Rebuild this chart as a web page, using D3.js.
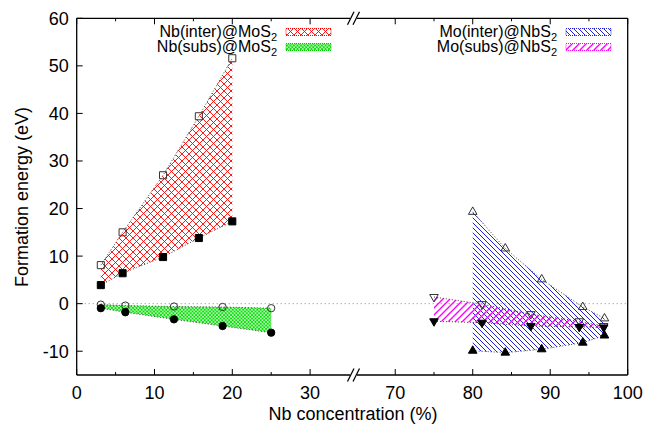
<!DOCTYPE html>
<html>
<head>
<meta charset="utf-8">
<script src="https://cdn.jsdelivr.net/npm/d3@7"></script>
<style>
  body { margin: 0; background: #fff; }
  text { font-family: "Liberation Sans", Arial, sans-serif; fill: #000; }
</style>
</head>
<body>
<svg id="chart" width="664" height="434"></svg>
<script>
// Nb concentration (%) and formation energies (eV)
var mosConcInter = [3.1, 5.9, 11.1, 15.7, 20];
var nbInterMax = [8.1, 15.0, 27.0, 39.4, 51.6];
var nbInterMin = [3.9, 6.4, 9.8, 13.8, 17.3];

var mosConcSubs = [3.1, 6.25, 12.5, 18.75, 25];
var nbSubsMax = [-0.2, -0.4, -0.6, -0.7, -0.95];
var nbSubsMin = [-0.95, -1.8, -3.3, -4.7, -6.1];

var nbsConcInter = [80, 84.2, 88.9, 94.2, 97];
var moInterMax = [19.3, 11.6, 5.1, -0.7, -3.1];
var moInterMin = [-9.9, -10.3, -9.6, -8.2, -6.7];

var nbsConcSubs = [75, 81.2, 87.5, 93.75, 96.9];
var moSubsMax = [1.4, -0.1, -2.2, -3.7, -4.7];
var moSubsMin = [-3.7, -4.0, -4.7, -4.9, -5.0];

var xMajor = [0, 10, 20, 30, 70, 80, 90, 100];
var xMinor = [5, 15, 25, 75, 85, 95];
var yTicks = [-10, 0, 10, 20, 30, 40, 50, 60];

var svg = d3.select('#chart');
var pLeft = 76.7, pRight = 627.7, pTop = 18.3, pBottom = 375;

// broken x axis: 0-35 on the left, 65-100 on the right
var x = d3.scaleLinear().domain([0, 35, 65, 100]).range([pLeft, 349, 356.5, pRight]);
var y = d3.scaleLinear().domain([-15, 60]).range([pBottom, pTop]);

var defs = svg.append('defs');
function hatch(id, color, size, dirs, width) {
  var p = defs.append('pattern').attr('id', id)
    .attr('patternUnits', 'userSpaceOnUse')
    .attr('width', size).attr('height', size);
  dirs.forEach(function(d) {
    var s = size;
    var path = d == 'down'
      ? 'M' + (-s) + ',' + (-s) + 'L' + (2 * s) + ',' + (2 * s) +
        'M' + (-s) + ',0L' + s + ',' + (2 * s) + 'M0,' + (-s) + 'L' + (2 * s) + ',' + s
      : 'M' + (-s) + ',' + (2 * s) + 'L' + (2 * s) + ',' + (-s) +
        'M' + (-s) + ',' + s + 'L' + s + ',' + (-s) + 'M0,' + (2 * s) + 'L' + (2 * s) + ',0';
    p.append('path').attr('d', path).attr('stroke', color)
      .attr('stroke-width', width).attr('fill', 'none');
  });
}
hatch('redx', '#ff0000', 7, ['down', 'up'], 0.9);
hatch('greenx', '#00dd00', 3.5, ['down', 'up'], 1);
hatch('blued', '#2222dd', 5, ['down'], 1);
hatch('magu', '#ff00ff', 7, ['up'], 1.4);

var plot = svg.append('g');

// zero line
plot.append('line')
  .attr('x1', pLeft).attr('x2', pRight)
  .attr('y1', y(0)).attr('y2', y(0))
  .attr('stroke', '#888').attr('stroke-width', 1)
  .attr('stroke-dasharray', '1,3');

var bands = [
  {xs: mosConcInter, hi: nbInterMax, lo: nbInterMin, fill: 'url(#redx)', shape: 'square'},
  {xs: mosConcSubs, hi: nbSubsMax, lo: nbSubsMin, fill: 'url(#greenx)', shape: 'circle'},
  {xs: nbsConcInter, hi: moInterMax, lo: moInterMin, fill: 'url(#blued)', shape: 'up'},
  {xs: nbsConcSubs, hi: moSubsMax, lo: moSubsMin, fill: 'url(#magu)', shape: 'down'}
];

function rowsOf(b) {
  return b.xs.map(function(v, i) { return {x: v, hi: b.hi[i], lo: b.lo[i]}; });
}

bands.forEach(function(b) {
  plot.append('path').datum(rowsOf(b))
    .attr('d', d3.area().x(function(d) { return x(d.x); })
      .y0(function(d) { return y(d.lo); }).y1(function(d) { return y(d.hi); }))
    .attr('fill', b.fill).attr('stroke', 'none');
});

bands.forEach(function(b) {
  ['hi', 'lo'].forEach(function(k) {
    plot.append('path').datum(rowsOf(b))
      .attr('d', d3.line().x(function(d) { return x(d.x); }).y(function(d) { return y(d[k]); }))
      .attr('fill', 'none').attr('stroke', '#444').attr('stroke-width', 1)
      .attr('stroke-dasharray', '1,2');
  });
});

function symbolPath(kind) {
  if (kind == 'square') return d3.symbol().type(d3.symbolSquare).size(50)();
  if (kind == 'circle') return d3.symbol().type(d3.symbolCircle).size(42)();
  return d3.symbol().type(d3.symbolTriangle).size(32)();
}

bands.forEach(function(b) {
  [['hi', 'none'], ['lo', '#000']].forEach(function(s) {
    var vals = b[s[0]];
    plot.selectAll(null).data(b.xs).enter().append('path')
      .attr('d', symbolPath(b.shape))
      .attr('transform', function(d, i) {
        return 'translate(' + x(d) + ',' + y(vals[i]) + ')' + (b.shape == 'down' ? ' rotate(180)' : '');
      })
      .attr('fill', s[1]).attr('stroke', s[1] == 'none' ? '#333' : '#000')
      .attr('stroke-width', 1);
  });
});

// frame with axis break
var frame = svg.append('g').attr('stroke', '#000').attr('stroke-width', 1.3).attr('fill', 'none');
frame.append('line').attr('x1', pLeft).attr('x2', pLeft).attr('y1', pTop).attr('y2', pBottom);
frame.append('line').attr('x1', pRight).attr('x2', pRight).attr('y1', pTop).attr('y2', pBottom);
[pTop, pBottom].forEach(function(yy) {
  frame.append('line').attr('x1', pLeft).attr('x2', 350).attr('y1', yy).attr('y2', yy);
  frame.append('line').attr('x1', 357).attr('x2', pRight).attr('y1', yy).attr('y2', yy);
  frame.append('line').attr('x1', 347.5).attr('x2', 354).attr('y1', yy + 6.5).attr('y2', yy - 6.5).attr('stroke-width', 1.2);
  frame.append('line').attr('x1', 353).attr('x2', 359.5).attr('y1', yy + 6.5).attr('y2', yy - 6.5).attr('stroke-width', 1.2);
});

// ticks
var ticks = svg.append('g').attr('stroke', '#000').attr('stroke-width', 1);
xMajor.forEach(function(v) {
  ticks.append('line').attr('x1', x(v)).attr('x2', x(v)).attr('y1', pBottom).attr('y2', pBottom - 6);
  ticks.append('line').attr('x1', x(v)).attr('x2', x(v)).attr('y1', pTop).attr('y2', pTop + 6);
});
xMinor.forEach(function(v) {
  ticks.append('line').attr('x1', x(v)).attr('x2', x(v)).attr('y1', pBottom).attr('y2', pBottom - 3);
  ticks.append('line').attr('x1', x(v)).attr('x2', x(v)).attr('y1', pTop).attr('y2', pTop + 3);
});
yTicks.forEach(function(v) {
  ticks.append('line').attr('x1', pLeft).attr('x2', pLeft + 6).attr('y1', y(v)).attr('y2', y(v));
});

svg.selectAll('.xl').data(xMajor).enter().append('text')
  .attr('x', function(d) { return x(d); }).attr('y', pBottom + 24)
  .attr('text-anchor', 'middle').attr('font-size', 18).text(function(d) { return d; });
svg.selectAll('.yl').data(yTicks).enter().append('text')
  .attr('x', pLeft - 8).attr('y', function(d) { return y(d) + 6.5; })
  .attr('text-anchor', 'end').attr('font-size', 18).text(function(d) { return d; });

svg.append('text').attr('x', 353).attr('y', 420).attr('text-anchor', 'middle')
  .attr('font-size', 18).text('Nb concentration (%)');
svg.append('text').attr('transform', 'translate(28,197) rotate(-90)')
  .attr('text-anchor', 'middle').attr('font-size', 18).text('Formation energy (eV)');

// legend
var legend = [
  {host: 'MoS', label: 'Nb(inter)@', fill: 'url(#redx)', color: '#ff0000', tx: 277, sx: 286, y: 32},
  {host: 'MoS', label: 'Nb(subs)@', fill: 'url(#greenx)', color: '#00cc00', tx: 277, sx: 286, y: 47},
  {host: 'NbS', label: 'Mo(inter)@', fill: 'url(#blued)', color: '#2222dd', tx: 557, sx: 566, y: 32},
  {host: 'NbS', label: 'Mo(subs)@', fill: 'url(#magu)', color: '#ff00ff', tx: 557, sx: 566, y: 47}
];
legend.forEach(function(l) {
  var t = svg.append('text').attr('x', l.tx).attr('y', l.y + 5).attr('text-anchor', 'end').attr('font-size', 16);
  t.append('tspan').text(l.label + l.host);
  t.append('tspan').attr('font-size', 11).attr('dy', 4).text('2');
  svg.append('rect').attr('x', l.sx).attr('y', l.y - 3.5).attr('width', 45).attr('height', 7)
    .attr('fill', l.fill).attr('stroke', l.color).attr('stroke-width', 1)
    .attr('stroke-dasharray', '1,1');
});
</script>
</body>
</html>
